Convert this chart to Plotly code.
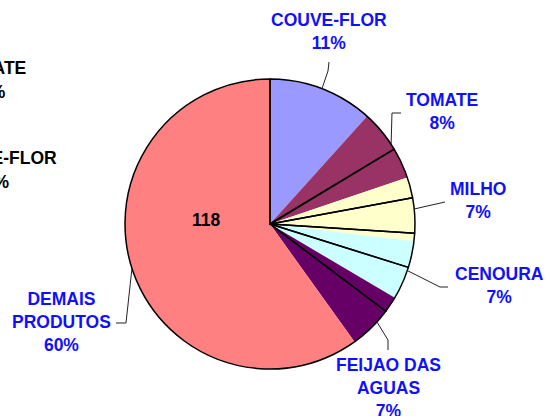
import math
import plotly.graph_objects as go

# ---- data ----
categories = ["COUVE-FLOR", "TOMATE", "MILHO", "CENOURA", "FEIJAO DAS<br>AGUAS", "DEMAIS<br>PRODUTOS"]
values = [23, 16, 14, 13, 13, 118]
percent_labels = ["11%", "8%", "7%", "7%", "7%", "60%"]
colors = ["#9999FF", "#993366", "#FFFFCC", "#CCFFFF", "#660066", "#FF8080"]
# black slice edges drawn in the picture (degrees, clockwise from 12 o'clock)
outline_values = [58.9, 20.7, 14.05, 13.75, 19.6, 233.0]
inside_value_label = "118"

# left, clipped labels of a neighbouring chart
side_labels = ["TOMATE", "8%", "COUVE-FLOR", "11%"]

W, H = 547, 416
CX, CY, R = 270, 224, 145

def px(x):
    return x / W

def py(y):
    return 1 - y / H

dom_x = [px(CX - R), px(CX + R)]
dom_y = [py(CY + R), py(CY - R)]

fig = go.Figure()
fig.add_trace(go.Pie(
    labels=[c.replace("<br>", " ") for c in categories], values=values, sort=False,
    direction="clockwise", rotation=0,
    marker=dict(colors=colors, line=dict(width=0)),
    textinfo="none", hoverinfo="skip", showlegend=False,
    domain=dict(x=dom_x, y=dom_y),
))
fig.add_trace(go.Pie(
    labels=["e%d" % i for i in range(len(outline_values))], values=outline_values, sort=False,
    direction="clockwise", rotation=0,
    marker=dict(colors=["rgba(0,0,0,0)"] * len(outline_values),
                line=dict(color="#000000", width=1.5)),
    textinfo="none", hoverinfo="skip", showlegend=False,
    domain=dict(x=dom_x, y=dom_y),
))

# label positions (layout)
label_pos = [(329, 32), (442, 111), (478, 200), (499, 285), (388, 388), (61, 322)]
# leader paths after the rim point (layout)
leader_tail = [
    [(328, 71), (329, 62)],
    [(392, 113), (401, 113)],
    [(445, 202)],
    [(440, 287), (448, 287)],
    [(388, 340), (388, 350)],
    [(126, 323), (116, 323)],
]

total = sum(values)
cum = 0
shapes = []
annotations = []
blue = "#1010FF"
for i, (cat, v) in enumerate(zip(categories, values)):
    mid = (cum + v / 2) / total * 2 * math.pi
    cum += v
    rx = CX + R * math.sin(mid)
    ry = CY - R * math.cos(mid)
    pts = [(rx, ry)] + leader_tail[i]
    path = "M %f,%f " % (px(pts[0][0]), py(pts[0][1]))
    for (a, b) in pts[1:]:
        path += "L %f,%f " % (px(a), py(b))
    shapes.append(dict(type="path", path=path, xref="paper", yref="paper",
                       line=dict(color="#222222", width=1)))
    lx, ly = label_pos[i]
    annotations.append(dict(
        x=px(lx), y=py(ly), xref="paper", yref="paper", showarrow=False,
        xanchor="center", yanchor="middle", align="center",
        text="<b>%s<br>%s</b>" % (cat, percent_labels[i]),
        font=dict(family="Liberation Sans, Arial", size=17.5, color=blue),
    ))

annotations.append(dict(
    x=px(206), y=py(220), xref="paper", yref="paper", showarrow=False,
    xanchor="center", yanchor="middle", text="<b>%s</b>" % inside_value_label,
    font=dict(family="Liberation Sans, Arial", size=17.5, color="#000000"),
))

side_pos = [(28, 68), (8, 92), (59, 158), (12, 182)]
for t, (x, y) in zip(side_labels, side_pos):
    annotations.append(dict(
        x=px(x), y=py(y), xref="paper", yref="paper", showarrow=False,
        xanchor="right", yanchor="middle", text="<b>%s</b>" % t,
        font=dict(family="Liberation Sans, Arial", size=17.5, color="#000000"),
    ))

fig.update_layout(
    width=W, height=H, margin=dict(l=0, r=0, t=0, b=0),
    paper_bgcolor="#FFFFFF", plot_bgcolor="#FFFFFF",
    shapes=shapes, annotations=annotations, showlegend=False,
)
fig.write_html(
    "out.html",
    config={"displayModeBar": False},
    post_script="document.body.style.margin='0px';document.body.style.overflow='hidden';",
)
